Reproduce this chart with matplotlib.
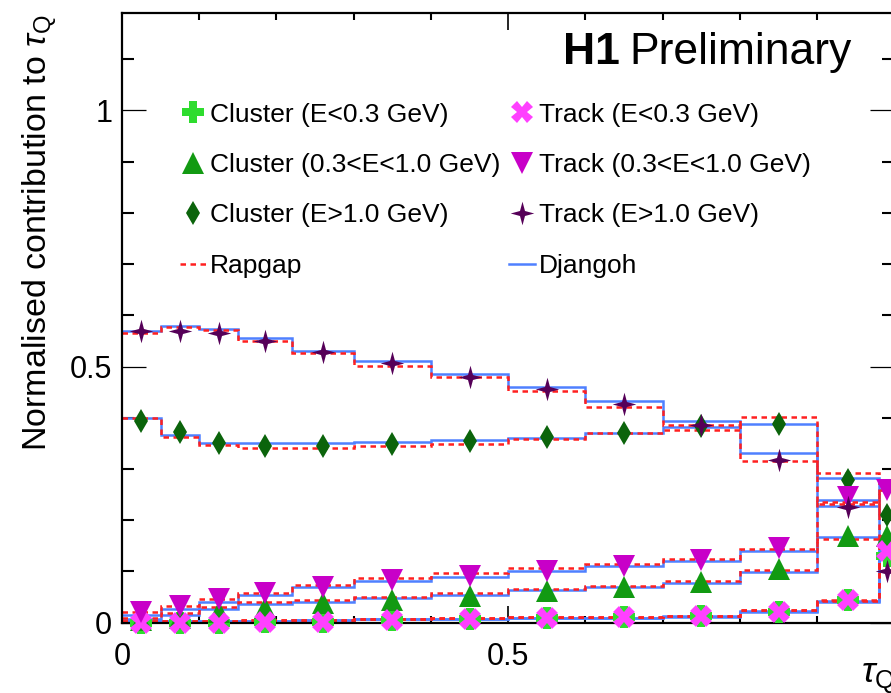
import matplotlib
matplotlib.use("Agg")
import matplotlib.pyplot as plt
import numpy as np
from matplotlib.lines import Line2D
from matplotlib.path import Path
from matplotlib.ticker import MultipleLocator, FuncFormatter

plt.rcParams['font.family'] = ['Liberation Sans', 'DejaVu Sans']
plt.rcParams['mathtext.fontset'] = 'custom'
plt.rcParams['mathtext.rm'] = 'Liberation Sans'
plt.rcParams['mathtext.it'] = 'Liberation Sans:italic'
plt.rcParams['mathtext.bf'] = 'Liberation Sans:bold'

# tau_Q binning
edges = [0, 0.05, 0.1, 0.15, 0.22, 0.3, 0.4, 0.5, 0.6, 0.7, 0.8, 0.9, 0.98, 1.0]

# cluster contributions (data, Rapgap, Djangoh)
cl_lo = [0.000, 0.000, 0.000, 0.001, 0.002, 0.005, 0.007, 0.010, 0.011, 0.013, 0.020, 0.045, 0.13]
cl_lo_rg = [0.004, 0.004, 0.004, 0.005, 0.006, 0.008, 0.009, 0.011, 0.011, 0.013, 0.024, 0.043, 0.13]
cl_lo_dj = [0.003, 0.003, 0.003, 0.004, 0.005, 0.007, 0.008, 0.010, 0.010, 0.012, 0.021, 0.041, 0.13]

cl_mid = [0.006, 0.010, 0.021, 0.028, 0.038, 0.045, 0.053, 0.061, 0.070, 0.079, 0.105, 0.170, 0.17]
cl_mid_rg = [0.010, 0.019, 0.031, 0.041, 0.045, 0.051, 0.058, 0.066, 0.072, 0.081, 0.102, 0.164, 0.17]
cl_mid_dj = [0.008, 0.016, 0.027, 0.036, 0.041, 0.048, 0.055, 0.063, 0.069, 0.077, 0.099, 0.168, 0.17]

cl_hi = [0.394, 0.372, 0.351, 0.345, 0.344, 0.348, 0.355, 0.362, 0.370, 0.384, 0.387, 0.279, 0.21]
cl_hi_rg = [0.400, 0.363, 0.346, 0.342, 0.342, 0.344, 0.348, 0.358, 0.371, 0.376, 0.401, 0.293, 0.21]
cl_hi_dj = [0.400, 0.367, 0.351, 0.350, 0.350, 0.352, 0.356, 0.361, 0.370, 0.382, 0.387, 0.283, 0.21]

# track contributions (data, Rapgap, Djangoh)
trk_lo = [0.000, 0.000, 0.000, 0.001, 0.002, 0.005, 0.007, 0.010, 0.011, 0.013, 0.020, 0.045, 0.14]
trk_lo_rg = [0.004, 0.004, 0.004, 0.005, 0.006, 0.008, 0.009, 0.011, 0.012, 0.014, 0.025, 0.044, 0.14]
trk_lo_dj = [0.003, 0.003, 0.003, 0.004, 0.005, 0.007, 0.008, 0.010, 0.010, 0.013, 0.022, 0.042, 0.14]

trk_mid = [0.021, 0.033, 0.046, 0.058, 0.070, 0.083, 0.092, 0.100, 0.111, 0.122, 0.145, 0.245, 0.26]
trk_mid_rg = [0.020, 0.032, 0.046, 0.059, 0.074, 0.087, 0.098, 0.107, 0.115, 0.124, 0.144, 0.236, 0.26]
trk_mid_dj = [0.016, 0.026, 0.041, 0.054, 0.069, 0.081, 0.090, 0.101, 0.110, 0.120, 0.140, 0.240, 0.26]

trk_hi = [0.570, 0.570, 0.565, 0.549, 0.528, 0.506, 0.479, 0.456, 0.426, 0.385, 0.318, 0.225, 0.10]
trk_hi_rg = [0.566, 0.578, 0.571, 0.549, 0.527, 0.502, 0.479, 0.453, 0.422, 0.386, 0.316, 0.232, 0.10]
trk_hi_dj = [0.570, 0.580, 0.574, 0.555, 0.531, 0.510, 0.485, 0.461, 0.432, 0.393, 0.332, 0.227, 0.10]

labels_cl = ['Cluster (E<0.3 GeV)', 'Cluster (0.3<E<1.0 GeV)', 'Cluster (E>1.0 GeV)']
labels_trk = ['Track (E<0.3 GeV)', 'Track (0.3<E<1.0 GeV)', 'Track (E>1.0 GeV)']

RED = '#ff2020'
BLUE = '#4f80ff'
star4 = Path.unit_regular_star(4, innerCircle=0.3)

series = [
    (cl_lo, cl_lo_rg, cl_lo_dj, 'P', '#2edc2e', 15.5),
    (cl_mid, cl_mid_rg, cl_mid_dj, '^', '#129a12', 16),
    (cl_hi, cl_hi_rg, cl_hi_dj, 'd', '#0b640b', 12),
    (trk_lo, trk_lo_rg, trk_lo_dj, 'X', '#ff40ff', 15.5),
    (trk_mid, trk_mid_rg, trk_mid_dj, 'v', '#c800c8', 16),
    (trk_hi, trk_hi_rg, trk_hi_dj, star4, '#560058', 17),
]

centres = 0.5 * (np.array(edges[:-1]) + np.array(edges[1:]))

fig = plt.figure(figsize=(8.91, 6.93), dpi=100)
ax = fig.add_axes([0.1369, 0.1014, 0.8670, 0.8798])

# MC predictions as step histograms
for data, rg, dj, mk, col, ms in series:
    ax.stairs(dj, edges, baseline=None, color=BLUE, lw=1.8, zorder=2)
    ax.stairs(rg, edges, baseline=None, color=RED, lw=1.8,
              linestyle=(0, (2.2, 1.8)), zorder=2.5)

# measured points
handles = []
for data, rg, dj, mk, col, ms in series:
    ax.plot(centres, data, linestyle='none', marker=mk, color=col,
            markersize=ms, markeredgewidth=0, clip_on=False, zorder=4)
    handles.append(Line2D([], [], linestyle='none', marker=mk, color=col,
                          markersize=ms, markeredgewidth=0))

h_rg = Line2D([], [], color=RED, lw=1.8, linestyle=(0, (2.2, 1.8)))
h_dj = Line2D([], [], color=BLUE, lw=1.8)
leg_handles = handles[:3] + [h_rg] + handles[3:] + [h_dj]
leg_labels = labels_cl + ['Rapgap'] + labels_trk + ['Djangoh']
ax.legend(leg_handles, leg_labels, ncol=2, loc='upper left',
          bbox_to_anchor=(0.075, 0.853), frameon=False, fontsize=19,
          handlelength=1.0, handletextpad=0.15, columnspacing=0.3,
          labelspacing=1.0, borderpad=0, borderaxespad=0)

ax.set_xlim(0, 1.0)
ax.set_ylim(0, 1.19)

ax.xaxis.set_major_locator(MultipleLocator(0.5))
ax.xaxis.set_minor_locator(MultipleLocator(0.1))
ax.yaxis.set_major_locator(MultipleLocator(0.5))
ax.yaxis.set_minor_locator(MultipleLocator(0.1))
ax.yaxis.set_major_formatter(FuncFormatter(lambda v, p: '%g' % v))
ax.xaxis.set_major_formatter(FuncFormatter(lambda v, p: '' if v > 0.99 else '%g' % v))

ax.tick_params(which='both', direction='in', top=True, right=True, labelsize=22)
ax.tick_params(axis='x', which='major', length=12, width=1.2, pad=14)
ax.tick_params(axis='x', which='minor', length=5, width=1.5)
ax.tick_params(axis='y', which='major', length=17, width=0.9, pad=7)
ax.tick_params(axis='y', which='minor', length=8.5, width=1.5)
for sp in ax.spines.values():
    sp.set_linewidth(1.6)

ax.set_ylabel(r'Normalised contribution to $\tau_{\mathrm{Q}}$', loc='top', fontsize=24.5)
ax.yaxis.set_label_coords(-0.080, 0.997)
ax.set_xlabel(r'$\tau_{\mathrm{Q}}$', loc='right', fontsize=26)
ax.xaxis.set_label_coords(1.0, -0.062)

prelim = ax.text(0.945, 1.091, 'Preliminary', ha='right', va='baseline', fontsize=32)
ax.annotate('H1', xy=(0, 0), xycoords=prelim, xytext=(-7, 0),
            textcoords='offset points', ha='right', va='bottom',
            fontsize=32, fontweight='bold')

fig.savefig('out.png', dpi=100)
